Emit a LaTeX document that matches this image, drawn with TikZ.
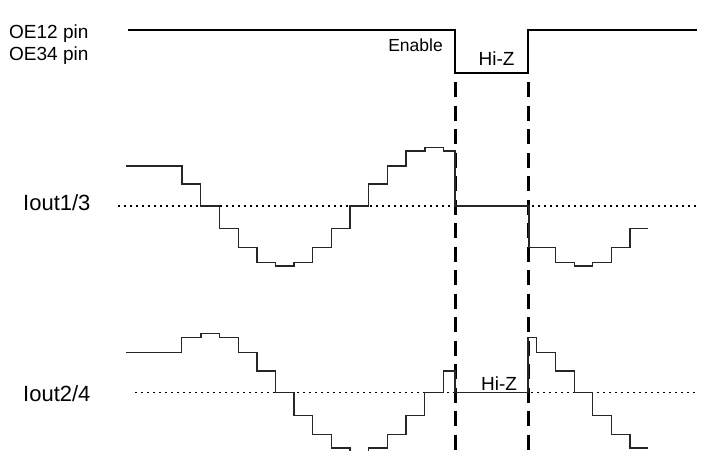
\documentclass[tikz,border=0pt]{standalone}
\usepackage{fontspec}
\setmainfont{Liberation Sans}
\begin{document}
\begin{tikzpicture}[x=1pt,y=-1pt,
  lbl/.style={inner sep=0pt,anchor=base west,font=\fontsize{19}{19}\selectfont},
  ilbl/.style={inner sep=0pt,anchor=base west,font=\fontsize{22}{22}\selectfont},
  small/.style={inner sep=0pt,anchor=base,font=\fontsize{19}{19}\selectfont},
  oeline/.style={line width=1.6pt,line join=miter},
  wave/.style={line width=1.1pt,black!85,line join=miter},
  zero/.style={line width=1.5pt,dash pattern=on 1.5pt off 4.5pt},
  guide/.style={line width=3pt,dash pattern=on 15pt off 8.5pt}]
\useasboundingbox (0,0) rectangle (706,450);
% labels
\node[lbl] (oe12) at (9,38) {OE12 pin};
\node[lbl] (oe34) at (9,60) {OE34 pin};
\node[ilbl] (i13) at (23,210) {Iout1/3};
\node[ilbl] (i24) at (23,401) {Iout2/4};
\node[small,anchor=base east,font=\fontsize{17.5}{17.5}\selectfont] (en) at (443,51) {Enable};
\node[small] (hz1) at (496.5,65) {Hi-Z};
\node[small] (hz2) at (499,390) {Hi-Z};
% OE signal
\draw[oeline] (128,30) -- (455,30) -- (455,73) -- (528,73) -- (528,30) -- (697,30);
% guides
\coordinate (g1t) at (455,82); \coordinate (g1b) at (455,452);
\coordinate (g2t) at (528,82); \coordinate (g2b) at (528,452);
\draw[guide] (g1t) -- (g1b);
\draw[guide] (g2t) -- (g2b);
% zero lines
\coordinate (z1a) at (118,206); \coordinate (z1b) at (697,206);
\coordinate (z2a) at (135,392.7); \coordinate (z2b) at (697,392.7);
\draw[zero] (z1a) -- (z1b);
\draw[zero] (z2a) -- (z2b);
% Iout1/3
\draw[wave] (126,166) -- (182,166) -- (182,184) -- (200.5,184) -- (200.5,206) -- (219.3,206) -- (219.3,228.3) -- (238.3,228.3) -- (238.3,247.3) -- (257,247.3) -- (257,262.7) -- (275.7,262.7) -- (275.7,266) -- (294,266) -- (294,262.7) -- (312.7,262.7) -- (312.7,247.3) -- (331.3,247.3) -- (331.3,228.3) -- (350,228.3) -- (350,206) -- (368.7,206) -- (368.7,184) -- (387.3,184) -- (387.3,166) -- (406,166) -- (406,151) -- (425,151) -- (425,147.3) -- (443.3,147.3) -- (443.3,151) -- (455,151) -- (455,206) -- (529,206) -- (529,247.7) -- (555.3,247.7) -- (555.3,262.7) -- (574.3,262.7) -- (574.3,266) -- (592.7,266) -- (592.7,262.7) -- (611.7,262.7) -- (611.7,247.7) -- (630,247.7) -- (630,228.3) -- (648.3,228.3);
% Iout2/4
\draw[wave] (126,352.3) -- (181.7,352.3) -- (181.7,337.3) -- (201,337.3) -- (201,333.7) -- (219.3,333.7) -- (219.3,337.3) -- (238.3,337.3) -- (238.3,352.3) -- (257,352.3) -- (257,371) -- (275.7,371) -- (275.7,392.7) -- (294,392.7) -- (294,415.7) -- (312.7,415.7) -- (312.7,434.3) -- (331.3,434.3) -- (331.3,448) -- (350,448) -- (350,453.5) -- (368.7,453.5) -- (368.7,448) -- (387.3,448) -- (387.3,434.3) -- (406,434.3) -- (406,415.7) -- (424.3,415.7) -- (424.3,392.7) -- (443.3,392.7) -- (443.3,371) -- (455,371) -- (455,392.7) -- (528,392.7) -- (528,337.3) -- (536.7,337.3) -- (536.7,352.3) -- (555.3,352.3) -- (555.3,371) -- (574.3,371) -- (574.3,392.7) -- (592.7,392.7) -- (592.7,415.7) -- (611.7,415.7) -- (611.7,434.3) -- (630,434.3) -- (630,448) -- (648.3,448);
\end{tikzpicture}
\end{document}
